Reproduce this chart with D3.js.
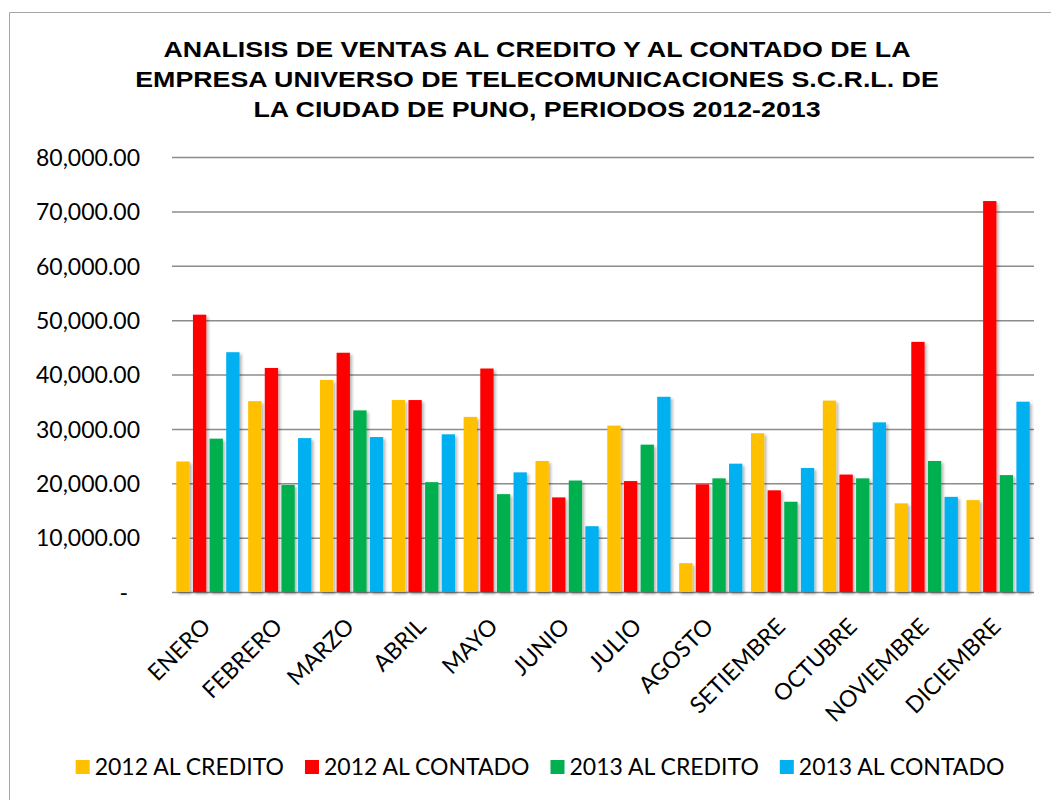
<!DOCTYPE html>
<html>
<head>
<meta charset="utf-8">
<script src="https://cdn.jsdelivr.net/npm/d3@7"></script>
<style>
  body { margin: 0; background: #fff; }
  svg { display: block; }
</style>
</head>
<body>
<div id="chart"></div>
<script>
// data
const months = ["ENERO", "FEBRERO", "MARZO", "ABRIL", "MAYO", "JUNIO", "JULIO",
  "AGOSTO", "SETIEMBRE", "OCTUBRE", "NOVIEMBRE", "DICIEMBRE"];
const seriesNames = ["2012 AL CREDITO", "2012 AL CONTADO", "2013 AL CREDITO", "2013 AL CONTADO"];
const credito2012 = [24000, 35100, 39000, 35300, 32200, 24100, 30600, 5300, 29200, 35200, 16300, 16900];
const contado2012 = [51000, 41200, 44000, 35300, 41100, 17400, 20400, 19800, 18700, 21600, 46000, 71900];
const credito2013 = [28200, 19700, 33400, 20200, 18000, 20500, 27100, 20900, 16600, 20900, 24100, 21500];
const contado2013 = [44100, 28300, 28500, 29000, 22000, 12100, 35900, 23600, 22800, 31200, 17500, 35000];
const yTicks = [0, 10000, 20000, 30000, 40000, 50000, 60000, 70000, 80000];
const titleLines = [
  "ANALISIS DE VENTAS AL CREDITO Y AL CONTADO DE LA",
  "EMPRESA UNIVERSO DE TELECOMUNICACIONES S.C.R.L. DE",
  "LA CIUDAD DE PUNO, PERIODOS 2012-2013"
];

const colors = ["#FFC000", "#FF0000", "#00B050", "#00B0F0"];
const allSeries = [credito2012, contado2012, credito2013, contado2013];

const width = 1051, height = 800;
const plot = {left: 172, right: 1034, top: 157, bottom: 592};
const font = "Lato, 'Open Sans', sans-serif";

const svg = d3.select("#chart").append("svg")
  .attr("width", width)
  .attr("height", height);

// soft shadow under bars
const defs = svg.append("defs");
defs.append("filter")
  .attr("id", "shadow")
  .attr("x", "-30%").attr("y", "-10%").attr("width", "180%").attr("height", "130%")
  .append("feDropShadow")
  .attr("dx", 2).attr("dy", 2).attr("stdDeviation", 1.6)
  .attr("flood-color", "#000").attr("flood-opacity", 0.3);

// chart frame (only left and top edges show)
svg.append("path")
  .attr("d", "M9.5," + height + "V12.5H" + width)
  .attr("fill", "none")
  .attr("stroke", "#a6a6a6")
  .attr("stroke-width", 1);

// title (the original is a bit stretched sideways)
svg.append("text")
  .attr("transform", "translate(537,0) scale(1.19,1)")
  .attr("x", 0)
  .attr("y", 57)
  .attr("text-anchor", "middle")
  .style("font-family", "'Liberation Sans', Arial, sans-serif")
  .style("font-weight", "bold")
  .style("font-size", "22.5px")
  .selectAll("tspan")
  .data(titleLines)
  .enter()
  .append("tspan")
  .attr("x", 0)
  .attr("dy", (d, i) => i === 0 ? 0 : 30)
  .text(d => d);

// scales
const x0 = d3.scaleBand()
  .domain(months)
  .range([plot.left, plot.right])
  .paddingInner(0.12)
  .paddingOuter(0.06);

const x1 = d3.scaleBand()
  .domain(d3.range(seriesNames.length))
  .range([0, x0.bandwidth()])
  .paddingInner(0.2)
  .paddingOuter(0);

const y = d3.scaleLinear()
  .domain([0, 80000])
  .range([plot.bottom, plot.top]);

// gridlines + y labels
const yAxis = svg.append("g")
  .attr("transform", "translate(" + plot.left + ",0)")
  .call(d3.axisLeft(y)
    .tickValues(yTicks)
    .tickSize(-(plot.right - plot.left))
    .tickPadding(0)
    .tickFormat(d => d === 0 ? "-" : d3.format(",.2f")(d)));
yAxis.select(".domain").remove();
yAxis.selectAll(".tick line")
  .attr("stroke", "#8c8c8c")
  .attr("stroke-width", 1.5);
yAxis.selectAll(".tick text")
  .attr("x", -32)
  .attr("dy", "0.36em")
  .style("font-family", font)
  .style("font-size", "23px")
  .attr("fill", "#000");
yAxis.selectAll(".tick text")
  .filter(d => d === 0)
  .attr("x", -44);

// bars
const groups = svg.append("g")
  .selectAll("g")
  .data(allSeries)
  .enter()
  .append("g")
  .attr("fill", (d, i) => colors[i])
  .attr("filter", "url(#shadow)");

groups.each(function(vals, si) {
  d3.select(this).selectAll("rect")
    .data(vals)
    .enter()
    .append("rect")
    .attr("x", (d, i) => x0(months[i]) + x1(si))
    .attr("y", d => y(d))
    .attr("width", x1.bandwidth())
    .attr("height", d => y(0) - y(d));
});

// x labels, rotated
const xAxis = svg.append("g")
  .attr("transform", "translate(0," + plot.bottom + ")")
  .call(d3.axisBottom(x0).tickSize(0).tickPadding(0));
xAxis.select(".domain").remove();
xAxis.selectAll(".tick text")
  .attr("text-anchor", "end")
  .attr("transform", "translate(4,36) rotate(-45)")
  .attr("dy", 0)
  .attr("y", 0)
  .style("font-family", font)
  .style("font-size", "23px")
  .attr("fill", "#000");

// legend
const legend = svg.append("g")
  .style("font-family", font)
  .style("font-size", "23px");
const items = legend.selectAll("g")
  .data(seriesNames)
  .enter()
  .append("g");
items.append("rect")
  .attr("y", 760)
  .attr("width", 14)
  .attr("height", 14)
  .attr("fill", (d, i) => colors[i]);
items.append("text")
  .attr("x", 19)
  .attr("y", 775)
  .text(d => d);

let cursor = 0;
items.each(function() {
  const w = d3.select(this).select("text").node().getComputedTextLength();
  d3.select(this).attr("data-off", cursor);
  cursor += 19 + w + 21;
});
const totalW = cursor - 21;
const startX = 540 - totalW / 2;
items.attr("transform", function() {
  return "translate(" + (startX + (+this.getAttribute("data-off"))) + ",0)";
});
</script>
</body>
</html>
